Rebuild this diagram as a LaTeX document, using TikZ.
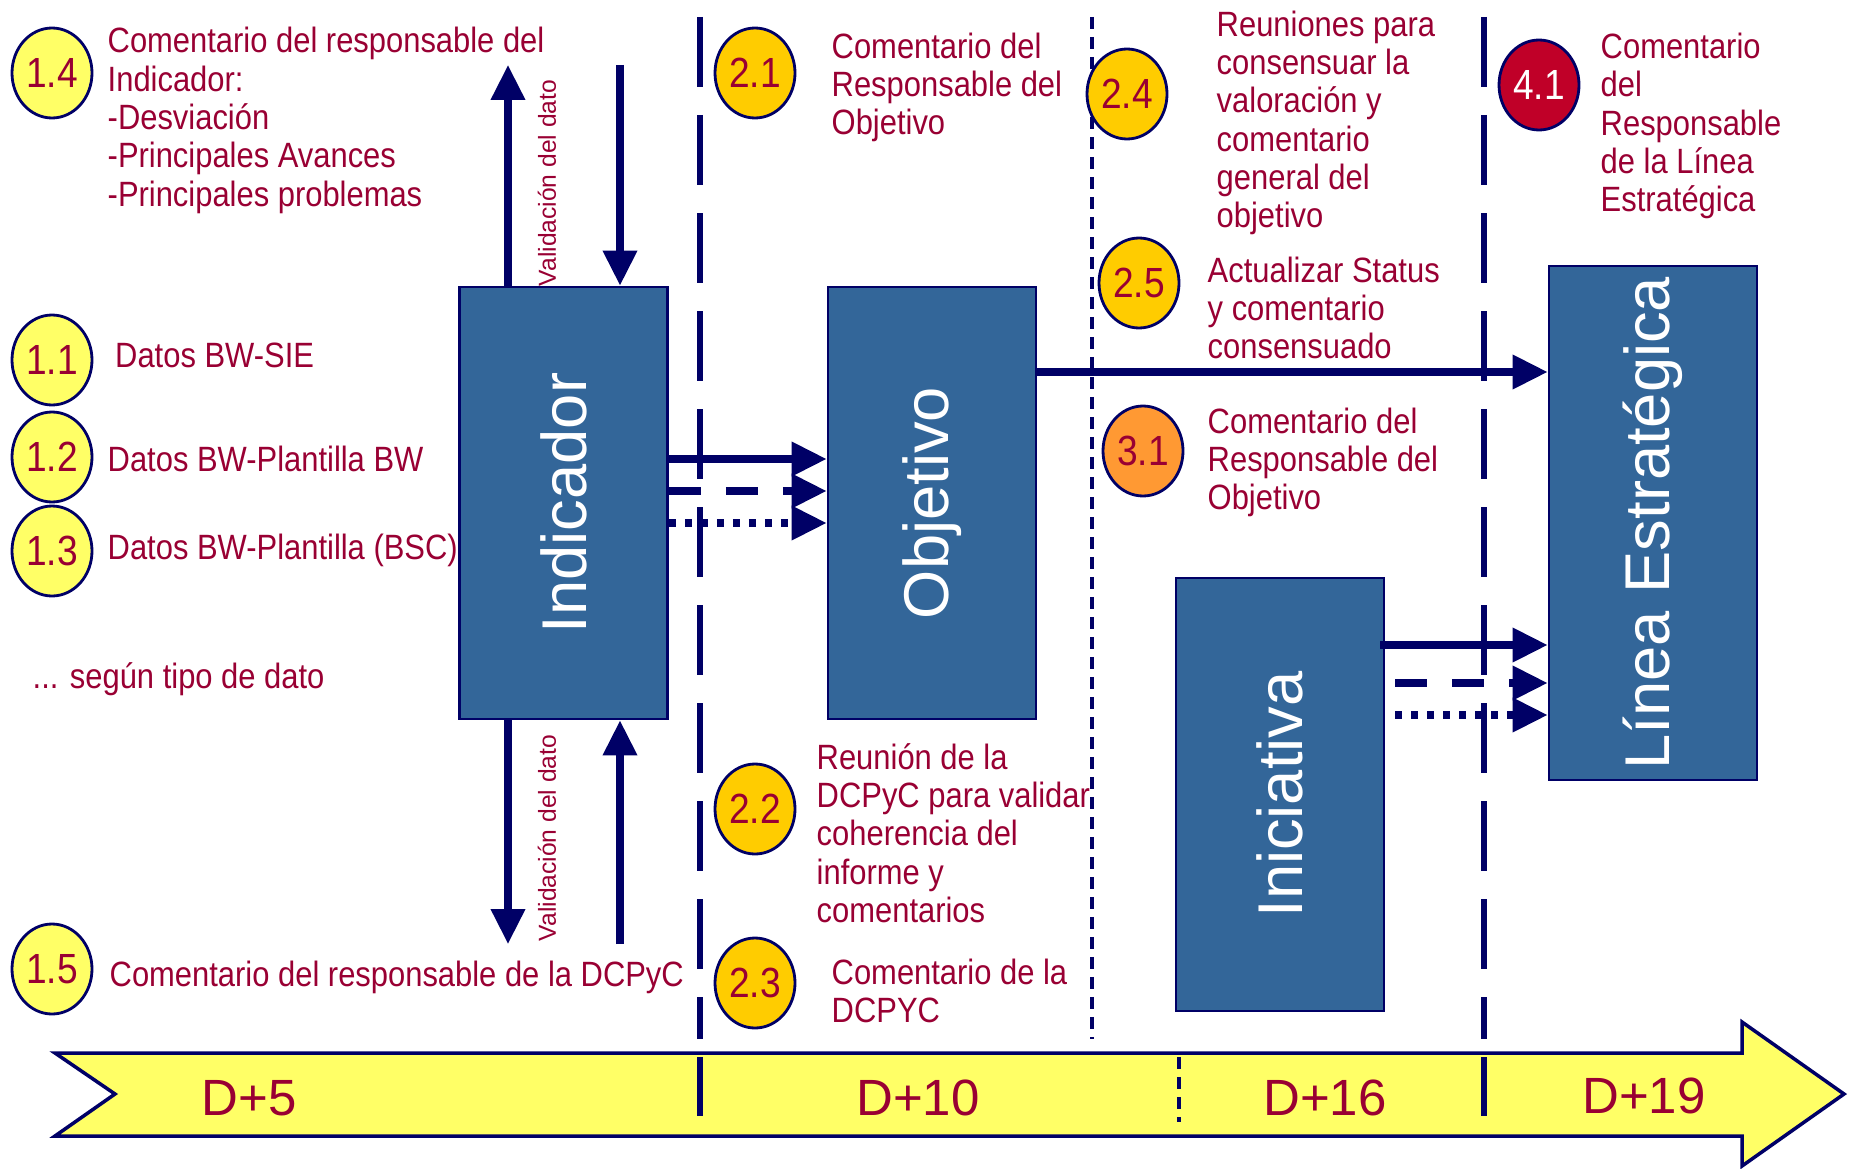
\documentclass[tikz,border=0pt]{standalone}
\usepackage{fontspec}
\setmainfont{Liberation Sans}
\newfontfamily\narrowfont[FakeStretch=0.88]{Liberation Sans}
\usepackage{tikz}
\usetikzlibrary{positioning, shapes, arrows.meta}

\definecolor{navy}{RGB}{0,0,102}
\definecolor{boxblue}{RGB}{51,102,153}
\definecolor{wine}{RGB}{153,0,51}
\definecolor{paleyellow}{RGB}{255,255,102}
\definecolor{goldfill}{RGB}{255,204,0}
\definecolor{tangerine}{RGB}{255,153,51}
\definecolor{crimsonfill}{RGB}{192,0,40}

\begin{document}
\begin{tikzpicture}[
    phase/.style={draw=navy, line width=0.8pt, fill=boxblue, minimum width=2.08cm},
    phaselabel/.style={rotate=90, text=white, font=\fontsize{18}{20}\selectfont},
    num/.style={ellipse, draw=navy, line width=0.8pt, minimum width=0.8cm, minimum height=0.9cm, inner sep=0pt, text=wine, font=\narrowfont\fontsize{12}{12}\selectfont},
    note/.style={anchor=west, align=left, inner sep=0pt, text=wine, font=\narrowfont\fontsize{10}{10.9}\selectfont},
    flow/.style={navy, line width=2pt, -{Triangle[length=0.35cm, width=0.33cm]}},
    valid/.style={rotate=90, inner sep=0pt, text=wine, font=\fontsize{7}{7}\selectfont},
    divider/.style={navy, line width=1.7pt, dash pattern=on 0.7cm off 0.28cm},
    thindiv/.style={navy, line width=0.9pt, dash pattern=on 0.12cm off 0.08cm},
    day/.style={text=wine, font=\fontsize{14.5}{15}\selectfont}
  ]
    \useasboundingbox (0,0) rectangle (18.51,11.68);

    % Time line at the bottom
    \draw[navy, line width=1pt, fill=paleyellow] (0.55,1.15) -- (17.42,1.15) -- (17.42,1.46) -- (18.44,0.74)
      -- (17.42,0.02) -- (17.42,0.32) -- (0.55,0.32) -- (1.15,0.74) -- cycle;
    \draw[navy, line width=1.7pt] (7.00,1.11) -- (7.00,0.52);
    \draw[thindiv] (11.79,1.11) -- (11.79,0.46);
    \draw[navy, line width=1.7pt] (14.84,1.11) -- (14.84,0.52);

    \node[day] (d5) at (2.49,0.70) {D+5};
    \node[day] (d10) at (9.18,0.70) {D+10};
    \node[day] (d16) at (13.25,0.70) {D+16};
    \node[day] (d19) at (16.44,0.72) {D+19};

    % Phase separators
    \draw[divider] (7.00,11.51) -- (7.00,1.29);
    \draw[thindiv] (10.92,11.51) -- (10.92,1.29);
    \draw[divider] (14.84,11.51) -- (14.84,1.29);

    % Boxes
    \node[phase, minimum height=4.32cm] (Indicador) at (5.635,6.65) {};
    \node[phaselabel] (IndicadorText) at (Indicador) {Indicador};

    \node[phase, minimum height=4.32cm] (Objetivo) at (9.32,6.65) {};
    \node[phaselabel] (ObjetivoText) at (Objetivo) {Objetivo};

    \node[phase, minimum height=4.33cm] (Iniciativa) at (12.80,3.735) {};
    \node[phaselabel] (IniciativaText) at (Iniciativa) {Iniciativa};

    \node[phase, minimum height=5.14cm] (Linea) at (16.53,6.45) {};
    \node[phaselabel] (LineaText) at (Linea) {Línea Estratégica};

    % Validation arrows
    \coordinate (upTip) at (5.08,11.03);
    \coordinate (downStart) at (6.20,11.03);
    \draw[flow] (Indicador.north -| upTip) -- (upTip);
    \draw[flow] (downStart) -- (Indicador.north -| downStart);
    \node[valid] (validTop) at (5.47,9.85) {Validación del dato};

    \coordinate (downTip) at (5.08,2.24);
    \coordinate (upStart) at (6.20,2.24);
    \draw[flow] (Indicador.south -| downTip) -- (downTip);
    \draw[flow] (upStart) -- (Indicador.south -| upStart);
    \node[valid] (validBottom) at (5.47,3.30) {Validación del dato};

    % Flows between boxes
    \draw[flow] ([yshift=0.44cm]Indicador.east) -- ([yshift=0.44cm]Objetivo.west);
    \draw[flow, dash pattern=on 0.32cm off 0.25cm] ([yshift=0.12cm]Indicador.east) -- ([yshift=0.12cm]Objetivo.west);
    \draw[flow, dash pattern=on 0.07cm off 0.09cm] ([yshift=-0.20cm]Indicador.east) -- ([yshift=-0.20cm]Objetivo.west);

    \coordinate (objOut) at (10.36,7.96);
    \draw[flow] (Objetivo.east |- objOut) -- (Linea.west |- objOut);

    \coordinate (iniOut) at (13.80,5.23);
    \coordinate (iniDash) at (13.95,4.85);
    \coordinate (iniDot) at (13.95,4.53);
    \draw[flow] (iniOut) -- (Linea.west |- iniOut);
    \draw[flow, dash pattern=on 0.32cm off 0.25cm] (iniDash) -- (Linea.west |- iniDash);
    \draw[flow, dash pattern=on 0.07cm off 0.09cm] (iniDot) -- (Linea.west |- iniDot);

    % Steps of the indicator
    \node[num, fill=paleyellow] (n14) at (0.52,10.95) {1.4};
    \node[note] (t14) at (1.07,10.475) {Comentario del responsable del\\Indicador:\\-Desviación\\-Principales Avances\\-Principales problemas};

    \node[num, fill=paleyellow] (n11) at (0.52,8.08) {1.1};
    \node[note] (t11) at (1.145,8.13) {Datos BW-SIE};

    \node[num, fill=paleyellow] (n12) at (0.52,7.11) {1.2};
    \node[note] (t12) at (1.07,7.09) {Datos BW-Plantilla BW};

    \node[num, fill=paleyellow] (n13) at (0.52,6.17) {1.3};
    \node[note] (t13) at (1.07,6.18) {Datos BW-Plantilla (BSC)};

    \node[note] (tipo) at (0.32,4.885) {... según tipo de dato};

    \node[num, fill=paleyellow] (n15) at (0.52,1.99) {1.5};
    \node[note] (t15) at (1.09,1.905) {Comentario del responsable de la DCPyC};

    % Steps of the objective
    \node[num, fill=goldfill] (n21) at (7.55,10.95) {2.1};
    \node[note] (t21) at (8.31,10.805) {Comentario del\\Responsable del\\Objetivo};

    \node[num, fill=goldfill] (n22) at (7.55,3.59) {2.2};
    \node[note] (t22) at (8.16,3.35) {Reunión de la\\DCPyC para validar\\coherencia del\\informe y\\comentarios};

    \node[num, fill=goldfill] (n23) at (7.55,1.85) {2.3};
    \node[note] (t23) at (8.31,1.77) {Comentario de la\\DCPYC};

    \node[num, fill=goldfill] (n24) at (11.27,10.74) {2.4};
    \node[note] (t24) at (12.16,10.45) {Reuniones para\\consensuar la\\valoración y\\comentario\\general del\\objetivo};

    \node[num, fill=goldfill] (n25) at (11.39,8.85) {2.5};
    \node[note] (t25) at (12.07,8.60) {Actualizar Status\\y comentario\\consensuado};

    \node[num, fill=tangerine] (n31) at (11.43,7.17) {3.1};
    \node[note] (t31) at (12.07,7.055) {Comentario del\\Responsable del\\Objetivo};

    % Step of the strategic line
    \node[num, fill=crimsonfill, text=white] (n41) at (15.39,10.83) {4.1};
    \node[note] (t41) at (16.00,10.42) {Comentario\\del\\Responsable\\de la Línea\\Estratégica};

\end{tikzpicture}
\end{document}
